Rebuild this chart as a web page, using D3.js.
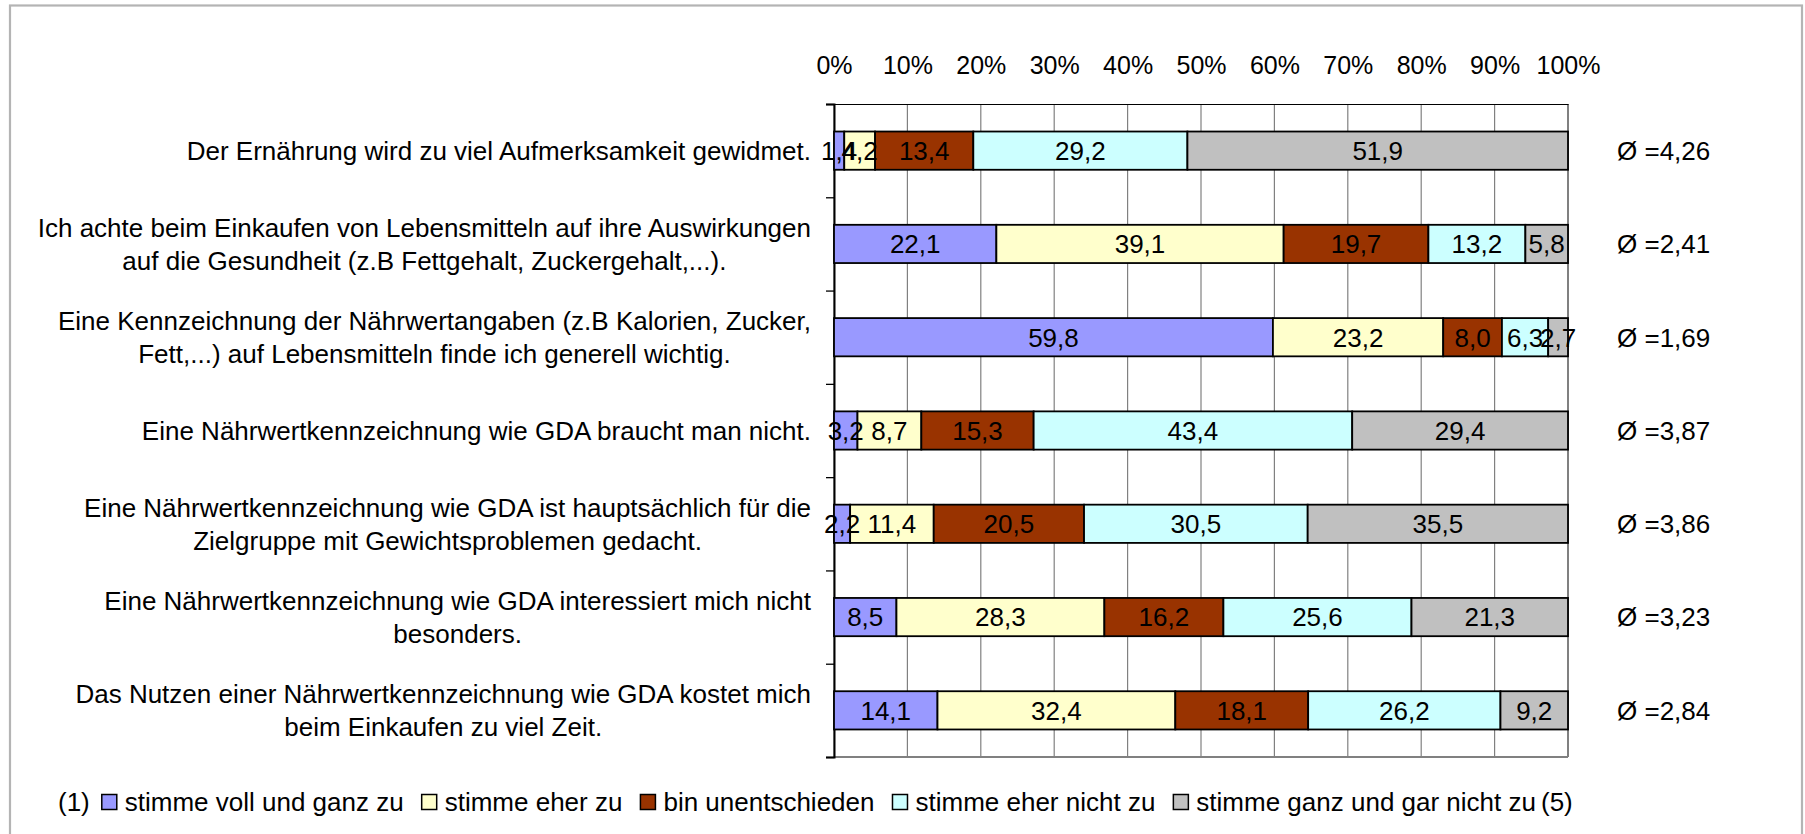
<!DOCTYPE html>
<html><head><meta charset="utf-8">
<script src="https://cdn.jsdelivr.net/npm/d3@7"></script>
<style>
body{margin:0;background:#fff}
svg text{font-family:"Liberation Sans",Arial,sans-serif;fill:#000}
</style>
</head><body>
<svg id="c" width="1805" height="834"></svg>
<script>
// ---- data ----
const categories = [
  ["Der Ernährung wird zu viel Aufmerksamkeit gewidmet."],
  ["Ich achte beim Einkaufen von Lebensmitteln auf ihre Auswirkungen", "auf die Gesundheit (z.B Fettgehalt, Zuckergehalt,...)."],
  ["Eine Kennzeichnung der Nährwertangaben (z.B Kalorien, Zucker,", "Fett,...) auf Lebensmitteln finde ich generell wichtig."],
  ["Eine Nährwertkennzeichnung wie GDA braucht man nicht."],
  ["Eine Nährwertkennzeichnung wie GDA ist hauptsächlich für die", "Zielgruppe mit Gewichtsproblemen gedacht."],
  ["Eine Nährwertkennzeichnung wie GDA interessiert mich nicht", "besonders."],
  ["Das Nutzen einer Nährwertkennzeichnung wie GDA kostet mich", "beim Einkaufen zu viel Zeit."]
];
const seriesNames = ["stimme voll und ganz zu", "stimme eher zu", "bin unentschieden", "stimme eher nicht zu", "stimme ganz und gar nicht zu"];
const vollUndGanz   = [1.4, 22.1, 59.8, 3.2, 2.2, 8.5, 14.1];
const eherZu        = [4.2, 39.1, 23.2, 8.7, 11.4, 28.3, 32.4];
const unentschieden = [13.4, 19.7, 8.0, 15.3, 20.5, 16.2, 18.1];
const eherNicht     = [29.2, 13.2, 6.3, 43.4, 30.5, 25.6, 26.2];
const garNicht      = [51.9, 5.8, 2.7, 29.4, 35.5, 21.3, 9.2];
const averages = ["4,26", "2,41", "1,69", "3,87", "3,86", "3,23", "2,84"];
const tickValues = [0, 0.1, 0.2, 0.3, 0.4, 0.5, 0.6, 0.7, 0.8, 0.9, 1];
const legendLeft = "(1)", legendRight = "(5)";
const colors = ["#9999FF", "#FFFFCC", "#993300", "#CCFFFF", "#C0C0C0"];

// ---- build table ----
const seriesValues = [vollUndGanz, eherZu, unentschieden, eherNicht, garNicht];
const rows = categories.map((c, i) => {
  const r = {idx: i};
  seriesNames.forEach((s, j) => r[s] = seriesValues[j][i]);
  return r;
});
const stacked = d3.stack().keys(seriesNames).offset(d3.stackOffsetExpand)(rows);

const svg = d3.select("#c");
const pLeft = 834, pRight = 1568, pTop = 104, pBottom = 757;
const x = d3.scaleLinear().domain([0, 1]).range([pLeft, pRight]);
const y = d3.scaleBand().domain(d3.range(categories.length)).range([pTop, pBottom])
  .paddingInner(0.59).paddingOuter(0.295);
const yb = d3.scaleLinear().domain([0, categories.length]).range([pTop, pBottom]);
const comma = v => d3.format(".1f")(v).replace(".", ",");
const FS = 26;

// outer frame
svg.append("rect").attr("x", 10).attr("y", 5.5).attr("width", 1792).attr("height", 840)
  .attr("fill", "none").attr("stroke", "#b4b4b4").attr("stroke-width", 2.2);

// gridlines
svg.append("g").selectAll("line").data(tickValues).join("line")
  .attr("x1", d => x(d)).attr("x2", d => x(d)).attr("y1", pTop).attr("y2", pBottom)
  .attr("stroke", "#808080").attr("stroke-width", 1.2);
// plot border (bottom, right)
svg.append("line").attr("x1", pLeft).attr("x2", pRight).attr("y1", pBottom).attr("y2", pBottom)
  .attr("stroke", "#808080").attr("stroke-width", 2);
svg.append("line").attr("x1", pRight).attr("x2", pRight).attr("y1", pTop).attr("y2", pBottom)
  .attr("stroke", "#808080").attr("stroke-width", 2);

// top value axis
const ax = svg.append("g").attr("transform", `translate(0,${pTop})`)
  .call(d3.axisTop(x).tickValues(tickValues).tickFormat(d3.format(".0%")).tickSize(0).tickPadding(30));
ax.select(".domain").attr("stroke", "#000").attr("stroke-width", 1.2);
ax.selectAll("text").attr("font-size", 25).attr("font-family", null);

// left category axis with ticks at band boundaries
const ay = svg.append("g").attr("transform", `translate(${pLeft},0)`)
  .call(d3.axisLeft(yb).tickValues(d3.range(categories.length + 1)).tickFormat("").tickSize(8));
ay.selectAll("line").attr("stroke", "#000").attr("stroke-width", 1.3);
ay.select(".domain").attr("stroke", "#000").attr("stroke-width", 2);

// bars
const g = svg.append("g");
stacked.forEach((layer, j) => {
  g.append("g").selectAll("rect").data(layer).join("rect")
    .attr("x", d => x(d[0])).attr("width", d => x(d[1]) - x(d[0]))
    .attr("y", (d, i) => y(i)).attr("height", y.bandwidth())
    .attr("fill", colors[j]).attr("stroke", "#000").attr("stroke-width", 1.8);
});
// value labels
stacked.forEach((layer, j) => {
  g.append("g").selectAll("text").data(layer).join("text")
    .attr("x", d => (x(d[0]) + x(d[1])) / 2)
    .attr("y", (d, i) => y(i) + y.bandwidth() / 2).attr("dy", "0.36em")
    .attr("text-anchor", "middle").attr("font-size", FS)
    .text((d, i) => comma(seriesValues[j][i]));
});

// category labels
const labelRight = 811, lineH = 33;
categories.forEach((lines, i) => {
  const cy = y(i) + y.bandwidth() / 2;
  const t = svg.append("text").attr("font-size", FS).attr("text-anchor", "middle");
  const spans = lines.map((ln, k) => t.append("tspan").text(ln)
    .attr("y", cy + (k - (lines.length - 1) / 2) * lineH).attr("dy", "0.36em"));
  const maxW = d3.max(spans, s => s.node().getComputedTextLength());
  spans.forEach(s => s.attr("x", labelRight - maxW / 2));
});

// averages
svg.append("g").selectAll("text").data(averages).join("text")
  .attr("x", 1617).attr("y", (d, i) => y(i) + y.bandwidth() / 2).attr("dy", "0.36em")
  .attr("font-size", FS).text(d => "Ø =" + d);

// legend
const lg = svg.append("g");
const ly = 802;
let cx = 58;
const t1 = lg.append("text").attr("x", cx).attr("y", ly).attr("dy", "0.36em").attr("font-size", FS).text(legendLeft);
cx += t1.node().getComputedTextLength() + 12;
seriesNames.forEach((s, j) => {
  lg.append("rect").attr("x", cx).attr("y", ly - 7.5).attr("width", 15).attr("height", 15)
    .attr("fill", colors[j]).attr("stroke", "#000").attr("stroke-width", 1.5);
  cx += 23;
  const t = lg.append("text").attr("x", cx).attr("y", ly).attr("dy", "0.36em").attr("font-size", FS).text(s);
  cx += t.node().getComputedTextLength() + (j < seriesNames.length - 1 ? 18 : 5);
});
lg.append("text").attr("x", cx).attr("y", ly).attr("dy", "0.36em").attr("font-size", FS).text(legendRight);
</script>
</body></html>
